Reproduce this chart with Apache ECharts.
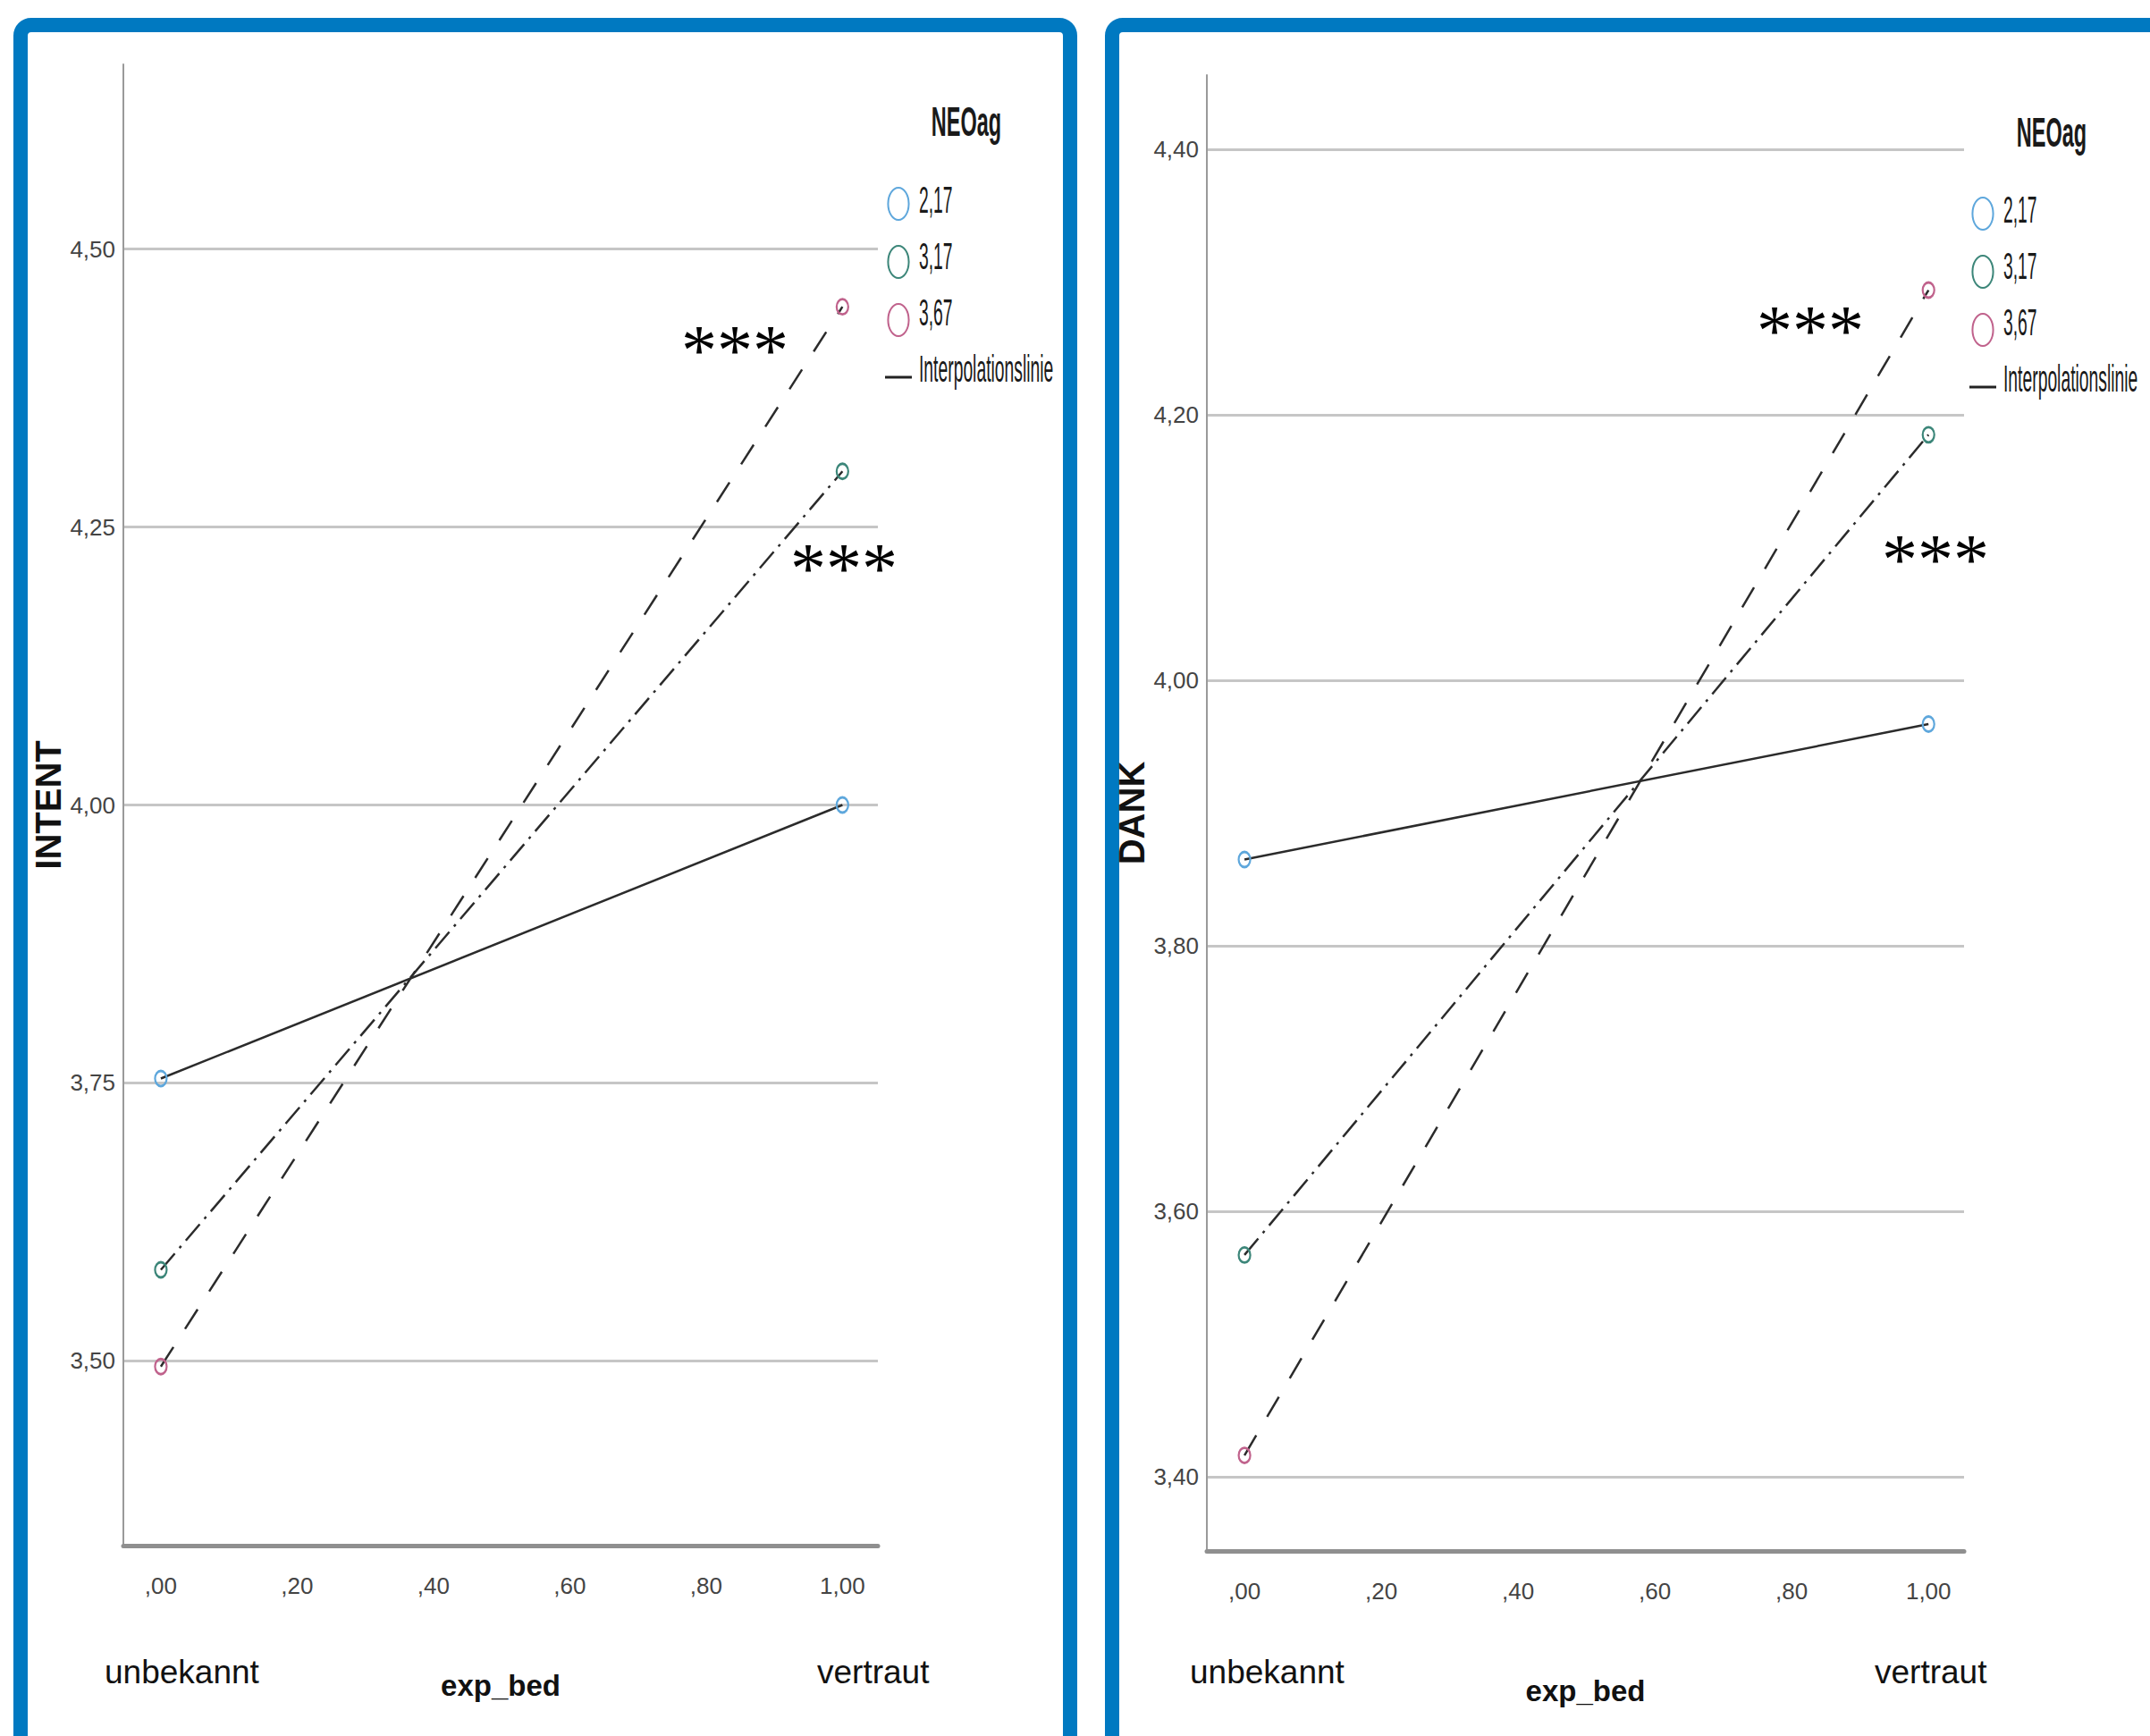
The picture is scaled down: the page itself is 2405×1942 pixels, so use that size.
<!DOCTYPE html>
<html>
<head>
<meta charset="utf-8">
<title>INTENT / DANK nach exp_bed und NEOag</title>
<script src="https://cdn.jsdelivr.net/npm/echarts@6/dist/echarts.min.js"></script>
<style>
  html, body { margin: 0; padding: 0; background: #fff; }
  #chart { width: 2405px; height: 1942px; }
</style>
</head>
<body>
<div id="chart"></div>
<script>
// Werte
const expBed = [0, 1];
const xTicks = [0, 0.2, 0.4, 0.6, 0.8, 1];
const groups = ['2,17', '3,17', '3,67'];
const legendNames = groups.concat(['Interpolationslinie']);

const intentTicks = [3.5, 3.75, 4.0, 4.25, 4.5];
const intent217 = [3.754, 4.0];
const intent317 = [3.582, 4.30];
const intent367 = [3.495, 4.448];

const dankTicks = [3.4, 3.6, 3.8, 4.0, 4.2, 4.4];
const dank217 = [3.865, 3.967];
const dank317 = [3.567, 4.185];
const dank367 = [3.416, 4.294];

const groupColors = ['#5ea7dc', '#3c8679', '#c0628c'];
const groupDash = ['solid', [24, 8, 3, 8], [26, 24]];

const plain = "'Liberation Sans', Arial, sans-serif";
const ellipse = 'path://M9,0A9,14 0 1,1 9,28A9,14 0 1,1 9,0Z';

const fmt = v => v.toFixed(2).replace('.', ',').replace(/^0/, '');

function lineSeries(name, vals, idx, k) {
    return {
        type: 'line',
        name: name,
        xAxisIndex: idx,
        yAxisIndex: idx,
        data: expBed.map((x, i) => [x, vals[i]]),
        symbol: ellipse,
        symbolSize: [13, 17],
        itemStyle: { color: 'rgba(255,255,255,0)', borderColor: groupColors[k], borderWidth: 2.5 },
        lineStyle: { color: '#2b2b2b', width: 2.5, type: groupDash[k] },
        emphasis: { disabled: true },
        animation: false
    };
}

function xAxis(idx) {
    return {
        type: 'value', gridIndex: idx, min: -0.055, max: 1.052,
        axisLine: { show: true, onZero: false, lineStyle: { color: '#8f8f8f', width: 5 } },
        axisTick: { show: false },
        splitLine: { show: false },
        axisLabel: {
            customValues: xTicks, formatter: fmt, margin: 32,
            fontFamily: plain, fontSize: 26, color: '#444'
        },
        name: 'exp_bed', nameLocation: 'middle', nameGap: 140,
        nameTextStyle: { fontFamily: plain, fontWeight: 'bold', fontSize: 33, color: '#111' }
    };
}

function yAxis(idx, name, ticks, min, max) {
    return {
        type: 'value', gridIndex: idx, min: min, max: max,
        axisLine: { show: true, onZero: false, lineStyle: { color: '#9a9a9a', width: 2 } },
        axisTick: { show: false, customValues: ticks },
        splitLine: { show: true, lineStyle: { color: '#c6c6c6', width: 3 } },
        axisLabel: {
            customValues: ticks, formatter: fmt, margin: 9,
            fontFamily: plain, fontSize: 26, color: '#444'
        },
        name: name, nameLocation: 'middle', nameRotate: 90, nameGap: 43,
        nameTextStyle: { fontFamily: plain, fontWeight: 'bold', fontSize: 40, color: '#111' }
    };
}

// Legend icons come from the legend component; its labels are drawn
// as horizontally squeezed text below to look like the SPSS output.
const LEG_H = 36, LEG_GAP = 27;
function legend(left, top) {
    return {
        orient: 'vertical', left: left, top: top,
        itemWidth: 30, itemHeight: LEG_H, itemGap: LEG_GAP,
        selectedMode: false,
        formatter: () => '',
        textStyle: { fontSize: 1 },
        data: groups.map((g, k) => ({
            name: g, icon: ellipse,
            itemStyle: { color: '#fff', borderColor: groupColors[k], borderWidth: 2 }
        })).concat([{
            name: 'Interpolationslinie', icon: 'path://M0,0H30V3H0Z',
            itemStyle: { color: '#222', borderWidth: 0 }
        }])
    };
}

function squeezed(text, x, y, opts) {
    const o = Object.assign({ size: 42, scale: 0.46, weight: 'normal', align: 'left' }, opts || {});
    return {
        type: 'text', x: x, y: y, scaleX: o.scale, silent: true,
        style: {
            text: text, fill: '#1a1a1a',
            fontFamily: plain, fontSize: o.size, fontWeight: o.weight,
            align: o.align, verticalAlign: 'middle',
            textAlign: o.align, textVerticalAlign: 'middle'
        }
    };
}

function legendLabels(textX, top) {
    return legendNames.map((n, i) =>
        squeezed(n, textX, top + LEG_H / 2 + i * (LEG_H + LEG_GAP) + 1));
}

function label(text, x, y, opts) {
    return {
        type: 'text', x: x, y: y, silent: true,
        style: Object.assign({
            text: text, fill: '#111',
            fontFamily: plain, fontSize: 37,
            align: 'left', verticalAlign: 'middle',
            textAlign: 'left', textVerticalAlign: 'middle'
        }, opts || {})
    };
}

const stars = {
    fontFamily: "'Liberation Serif', 'DejaVu Serif', serif", fontSize: 80, fill: '#000',
    align: 'center', textAlign: 'center'
};

const legTopL = 204, legTopR = 215;

const chart = echarts.init(document.getElementById('chart'), null, { renderer: 'svg' });

chart.setOption({
    backgroundColor: '#fff',
    animation: false,
    grid: [
        { left: 138, top: 72, width: 844, height: 1657 },
        { left: 1350, top: 84, width: 847, height: 1651 }
    ],
    xAxis: [xAxis(0), xAxis(1)],
    yAxis: [
        yAxis(0, 'INTENT', intentTicks, 3.334, 4.666),
        yAxis(1, 'DANK', dankTicks, 3.344, 4.456)
    ],
    legend: [legend(985, legTopL), legend(2198, legTopR)],
    series: [
        lineSeries(groups[0], intent217, 0, 0),
        lineSeries(groups[1], intent317, 0, 1),
        lineSeries(groups[2], intent367, 0, 2),
        lineSeries(groups[0], dank217, 1, 0),
        lineSeries(groups[1], dank317, 1, 1),
        lineSeries(groups[2], dank367, 1, 2),
        { type: 'line', name: 'Interpolationslinie', data: [], xAxisIndex: 0, yAxisIndex: 0,
          lineStyle: { color: '#222' }, itemStyle: { color: '#222' } }
    ],
    graphic: [
        { type: 'rect', silent: true, shape: { x: 23, y: 28, width: 1174, height: 2000, r: 12 },
          style: { fill: 'none', stroke: '#0079c1', lineWidth: 16 } },
        { type: 'rect', silent: true, shape: { x: 1244, y: 28, width: 1200, height: 2000, r: 12 },
          style: { fill: 'none', stroke: '#0079c1', lineWidth: 16 } },

        squeezed('NEOag', 1081, 136, { size: 47, scale: 0.5, weight: 'bold', align: 'center' }),
        squeezed('NEOag', 2295, 148, { size: 47, scale: 0.5, weight: 'bold', align: 'center' }),

        label('***', 822, 392, stars),
        label('***', 944, 636, stars),
        label('***', 2025, 370, stars),
        label('***', 2165, 626, stars),

        label('unbekannt', 117, 1870),
        label('vertraut', 914, 1870),
        label('unbekannt', 1331, 1870),
        label('vertraut', 2097, 1870)
    ].concat(legendLabels(1028, legTopL), legendLabels(2241, legTopR))
});
</script>
</body>
</html>
